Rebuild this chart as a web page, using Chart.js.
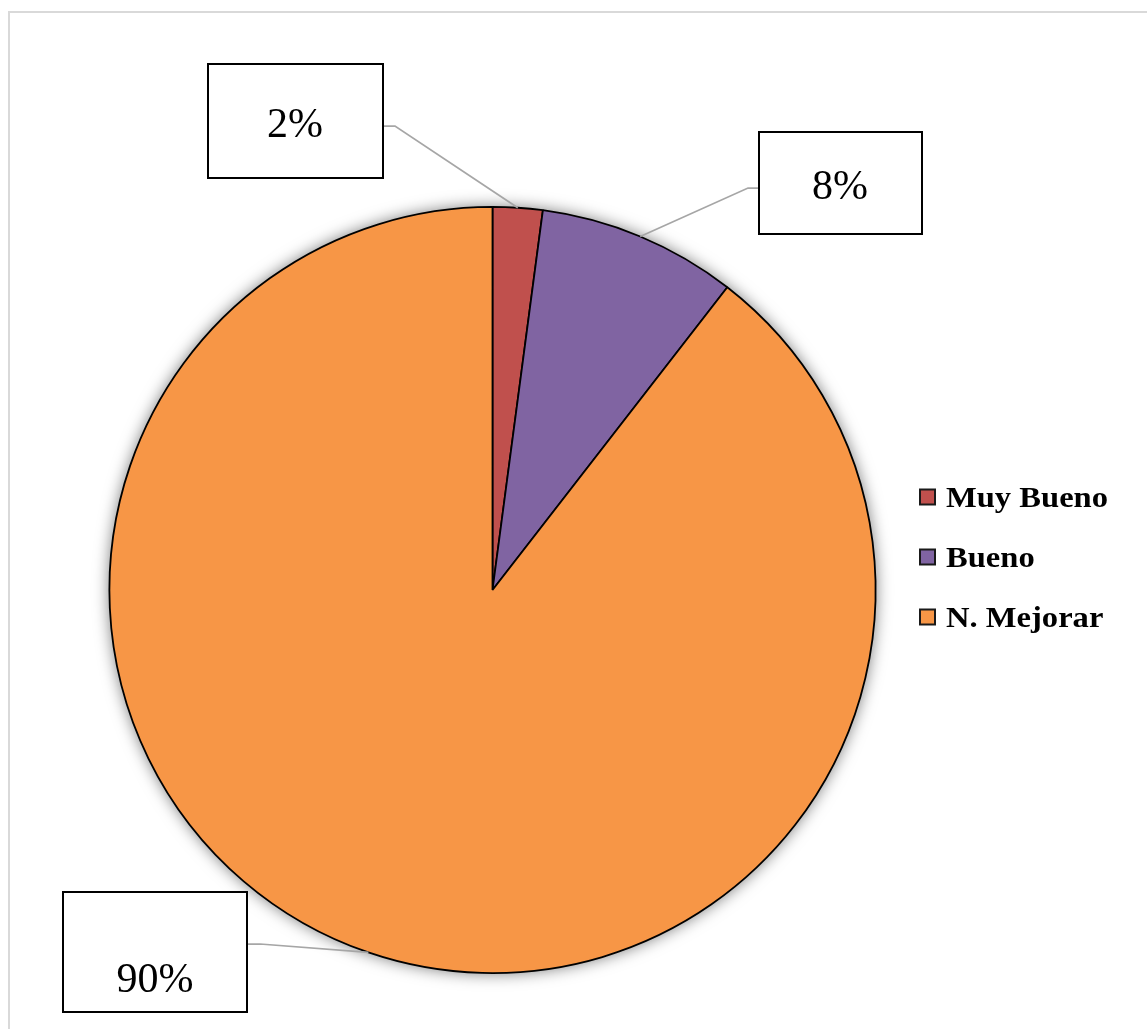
<!DOCTYPE html>
<html>
<head>
<meta charset="utf-8">
<script src="https://cdn.jsdelivr.net/npm/chart.js@4/dist/chart.umd.min.js"></script>
<style>
html,body{margin:0;padding:0;background:#fff;}
canvas{display:block;}
</style>
</head>
<body>
<canvas id="c" width="1147" height="1029"></canvas>
<script>
const categories = ["Muy Bueno", "Bueno", "N. Mejorar"];
const values = [2.1, 8.4, 89.5];
const percentLabels = ["2%", "8%", "90%"];
const colors = ["#C0504D", "#8064A2", "#F79646"];

// label box layout (pixels)
const boxes = [
  {x:208, y:64, w:175, h:114, tx:295, ty:137, elbowX:395, side:'right'},
  {x:759, y:132, w:163, h:102, tx:840, ty:199, elbowX:748, side:'left'},
  {x:63, y:892, w:184, h:120, tx:155, ty:992, elbowX:260, side:'right'}
];

const framePlugin = {
  id: 'frame',
  beforeDraw(chart){
    const ctx = chart.ctx;
    ctx.save();
    ctx.fillStyle = '#fff';
    ctx.fillRect(0,0,chart.width,chart.height);
    ctx.strokeStyle = '#d9d9d9';
    ctx.lineWidth = 2;
    ctx.strokeRect(9, 12, 1200, 1100);
    ctx.restore();
  },
  beforeDatasetsDraw(chart){
    const arc = chart.getDatasetMeta(0).data[0];
    if(!arc) return;
    const p = arc.getProps(['x','y','outerRadius'], true);
    const ctx = chart.ctx;
    ctx.save();
    ctx.shadowColor = 'rgba(0,0,0,0.55)';
    ctx.shadowBlur = 16;
    ctx.fillStyle = '#F79646';
    ctx.beginPath();
    ctx.arc(p.x, p.y, p.outerRadius, 0, Math.PI*2);
    ctx.fill();
    ctx.restore();
  }
};

const labelPlugin = {
  id: 'labels',
  afterDatasetsDraw(chart){
    const ctx = chart.ctx;
    const meta = chart.getDatasetMeta(0);
    meta.data.forEach((arc, i) => {
      const p = arc.getProps(['x','y','startAngle','endAngle','outerRadius'], true);
      const mid = (p.startAngle + p.endAngle)/2;
      const ex = p.x + Math.cos(mid)*p.outerRadius;
      const ey = p.y + Math.sin(mid)*p.outerRadius;
      const b = boxes[i];
      const ly = b.y + b.h/2 + (i===2 ? -8 : 5);
      const bx = b.side === 'right' ? b.x + b.w : b.x;
      ctx.save();
      ctx.strokeStyle = '#a6a6a6';
      ctx.lineWidth = 1.75;
      ctx.beginPath();
      ctx.moveTo(bx, ly);
      ctx.lineTo(b.elbowX, ly);
      ctx.lineTo(ex, ey);
      ctx.stroke();
      ctx.fillStyle = '#fff';
      ctx.fillRect(b.x, b.y, b.w, b.h);
      ctx.strokeStyle = '#000';
      ctx.lineWidth = 2;
      ctx.strokeRect(b.x, b.y, b.w, b.h);
      ctx.fillStyle = '#000';
      ctx.font = '42px "Liberation Serif"';
      ctx.textAlign = 'center';
      ctx.textBaseline = 'alphabetic';
      ctx.fillText(percentLabels[i], b.tx, b.ty);
      ctx.restore();
    });
  },
  afterDraw(chart){
    const ctx = chart.ctx;
    ctx.save();
    ctx.font = 'bold 29px "Liberation Serif"';
    const w = ctx.measureText(categories[0]).width;
    const sx = 162 / w;
    categories.forEach((name, i) => {
      const cy = 497 + i*60;
      ctx.fillStyle = colors[i];
      ctx.fillRect(920, cy-7.5, 15, 15);
      ctx.strokeStyle = '#1a1a1a';
      ctx.lineWidth = 2;
      ctx.strokeRect(920, cy-7.5, 15, 15);
      ctx.save();
      ctx.translate(946, cy + 10);
      ctx.scale(sx, 1);
      ctx.fillStyle = '#000';
      ctx.textAlign = 'left';
      ctx.textBaseline = 'alphabetic';
      ctx.fillText(name, 0, 0);
      ctx.restore();
    });
    ctx.restore();
  }
};

new Chart(document.getElementById('c'), {
  type: 'pie',
  data: {
    labels: categories,
    datasets: [{
      data: values,
      backgroundColor: colors,
      borderColor: '#000',
      borderWidth: 1.8
    }]
  },
  options: {
    responsive: false,
    animation: false,
    devicePixelRatio: 1,
    layout: { padding: { top: 206, bottom: 55, left: 108, right: 270 } },
    plugins: {
      legend: { display: false },
      tooltip: { enabled: false }
    }
  },
  plugins: [framePlugin, labelPlugin]
});
</script>
</body>
</html>
